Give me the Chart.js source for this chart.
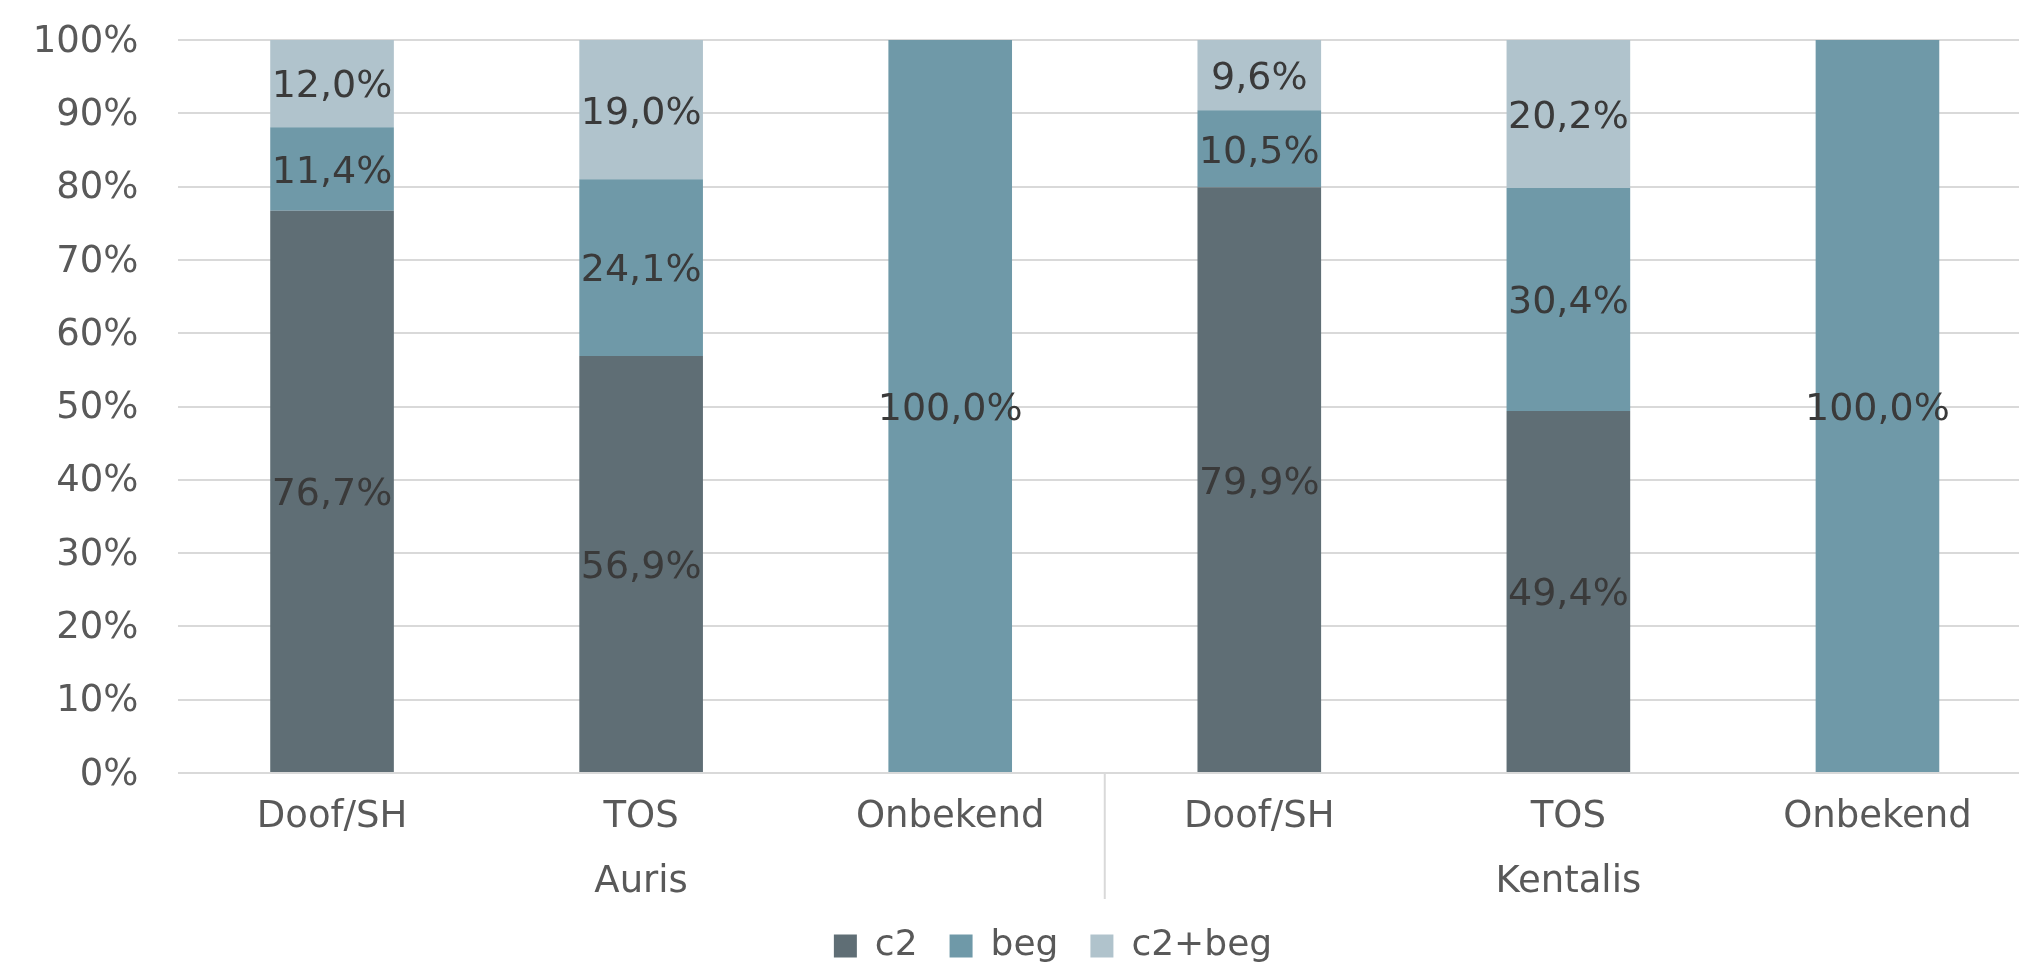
<!DOCTYPE html>
<html>
<head>
<meta charset="utf-8">
<script src="https://cdn.jsdelivr.net/npm/chart.js@4.4.1/dist/chart.umd.min.js"></script>
<style>
  html, body { margin: 0; padding: 0; background: #ffffff; overflow: hidden; }
  #grafica { display: block; }
</style>
</head>
<body>
<canvas id="grafica" width="2106" height="974"></canvas>
<script>
// Datos
const categorias = ['Doof/SH', 'TOS', 'Onbekend', 'Doof/SH', 'TOS', 'Onbekend'];
const grupos = ['Auris', 'Kentalis'];
const serieC2 = [76.7, 56.9, 0, 79.9, 49.4, 0];
const serieBeg = [11.4, 24.1, 100, 10.5, 30.4, 100];
const serieC2Beg = [12.0, 19.0, 0, 9.6, 20.2, 0];
const marcasY = [0, 10, 20, 30, 40, 50, 60, 70, 80, 90, 100];

const fuente = 'DejaVu Sans, Verdana, sans-serif';

// Etiquetas dentro de cada segmento (sin plugin externo)
const etiquetasDatos = {
    id: 'etiquetasDatos',
    afterDatasetsDraw(chart) {
        const ctx = chart.ctx;
        ctx.save();
        ctx.font = '38px ' + fuente;
        ctx.fillStyle = '#3a3a3a';
        ctx.textAlign = 'center';
        ctx.textBaseline = 'middle';
        chart.data.datasets.forEach((ds, i) => {
            const meta = chart.getDatasetMeta(i);
            meta.data.forEach((barra, j) => {
                const valor = ds.data[j];
                if (!valor) return;
                const centro = barra.getCenterPoint();
                // un poco más abajo, como en Excel
                ctx.fillText(valor.toFixed(1).replace('.', ',') + '%', centro.x, centro.y + 4);
            });
        });
        ctx.restore();
    }
};

// Línea que separa los dos grupos debajo del eje
const separador = {
    id: 'separador',
    afterDraw(chart) {
        const ctx = chart.ctx;
        const x = chart.scales.x;
        const xs = (x.getPixelForTick(2) + x.getPixelForTick(3)) / 2;
        ctx.save();
        ctx.strokeStyle = '#d9d9d9';
        ctx.lineWidth = 2;
        ctx.beginPath();
        ctx.moveTo(xs, chart.chartArea.bottom);
        ctx.lineTo(xs, chart.scales.grupo.bottom + 3);
        ctx.stroke();
        ctx.restore();
    }
};

// La leyenda del original está centrada en el gráfico completo (cortado a la derecha)
const moverLeyenda = {
    id: 'moverLeyenda',
    afterLayout(chart) {
        chart.legend.left += 37;
        chart.legend.right += 37;
    }
};

const lienzo = document.getElementById('grafica').getContext('2d');

new Chart(lienzo, {
    type: 'bar',
    data: {
        labels: categorias,
        datasets: [
            { label: 'c2', data: serieC2, backgroundColor: '#5f6e75' },
            { label: 'beg', data: serieBeg, backgroundColor: '#6f99a8' },
            { label: 'c2+beg', data: serieC2Beg, backgroundColor: '#b0c3cc' }
        ]
    },
    options: {
        responsive: false,
        animation: false,
        // el gráfico original está cortado a la derecha, por eso el lienzo es más ancho
        layout: { padding: { top: 40, right: 74, left: 0, bottom: 0 } },
        datasets: { bar: { categoryPercentage: 1, barPercentage: 0.40 } },
        plugins: {
            tooltip: { enabled: false },
            legend: {
                position: 'bottom',
                labels: {
                    color: '#595959',
                    font: { family: fuente, size: 36 },
                    boxWidth: 23,
                    boxHeight: 23,
                    padding: 32
                }
            }
        },
        scales: {
            x: {
                stacked: true,
                grid: { display: false },
                border: { display: false },
                ticks: {
                    color: '#595959',
                    font: { family: fuente, size: 37 },
                    padding: 14,
                    maxRotation: 0,
                    autoSkip: false
                },
                afterFit(escala) { escala.height = 59; }
            },
            grupo: {
                type: 'category',
                position: 'bottom',
                labels: grupos,
                offset: true,
                grid: { display: false },
                border: { display: false },
                ticks: {
                    color: '#595959',
                    font: { family: fuente, size: 37 },
                    padding: 20,
                    maxRotation: 0
                },
                afterFit(escala) { escala.height = 64; }
            },
            y: {
                stacked: true,
                min: 0,
                max: 100,
                afterBuildTicks(escala) { escala.ticks = marcasY.map(v => ({ value: v })); },
                grid: { color: '#d9d9d9', lineWidth: 2, drawTicks: false },
                border: { display: false },
                ticks: {
                    color: '#595959',
                    font: { family: fuente, size: 37 },
                    padding: 39,
                    labelOffset: 2,
                    callback: v => v + '%'
                },
                afterFit(escala) {
                    escala.width = 177.5;
                    escala.paddingTop = 0;
                    escala.paddingBottom = 0;
                }
            }
        }
    },
    plugins: [etiquetasDatos, separador, moverLeyenda]
});
</script>
</body>
</html>
